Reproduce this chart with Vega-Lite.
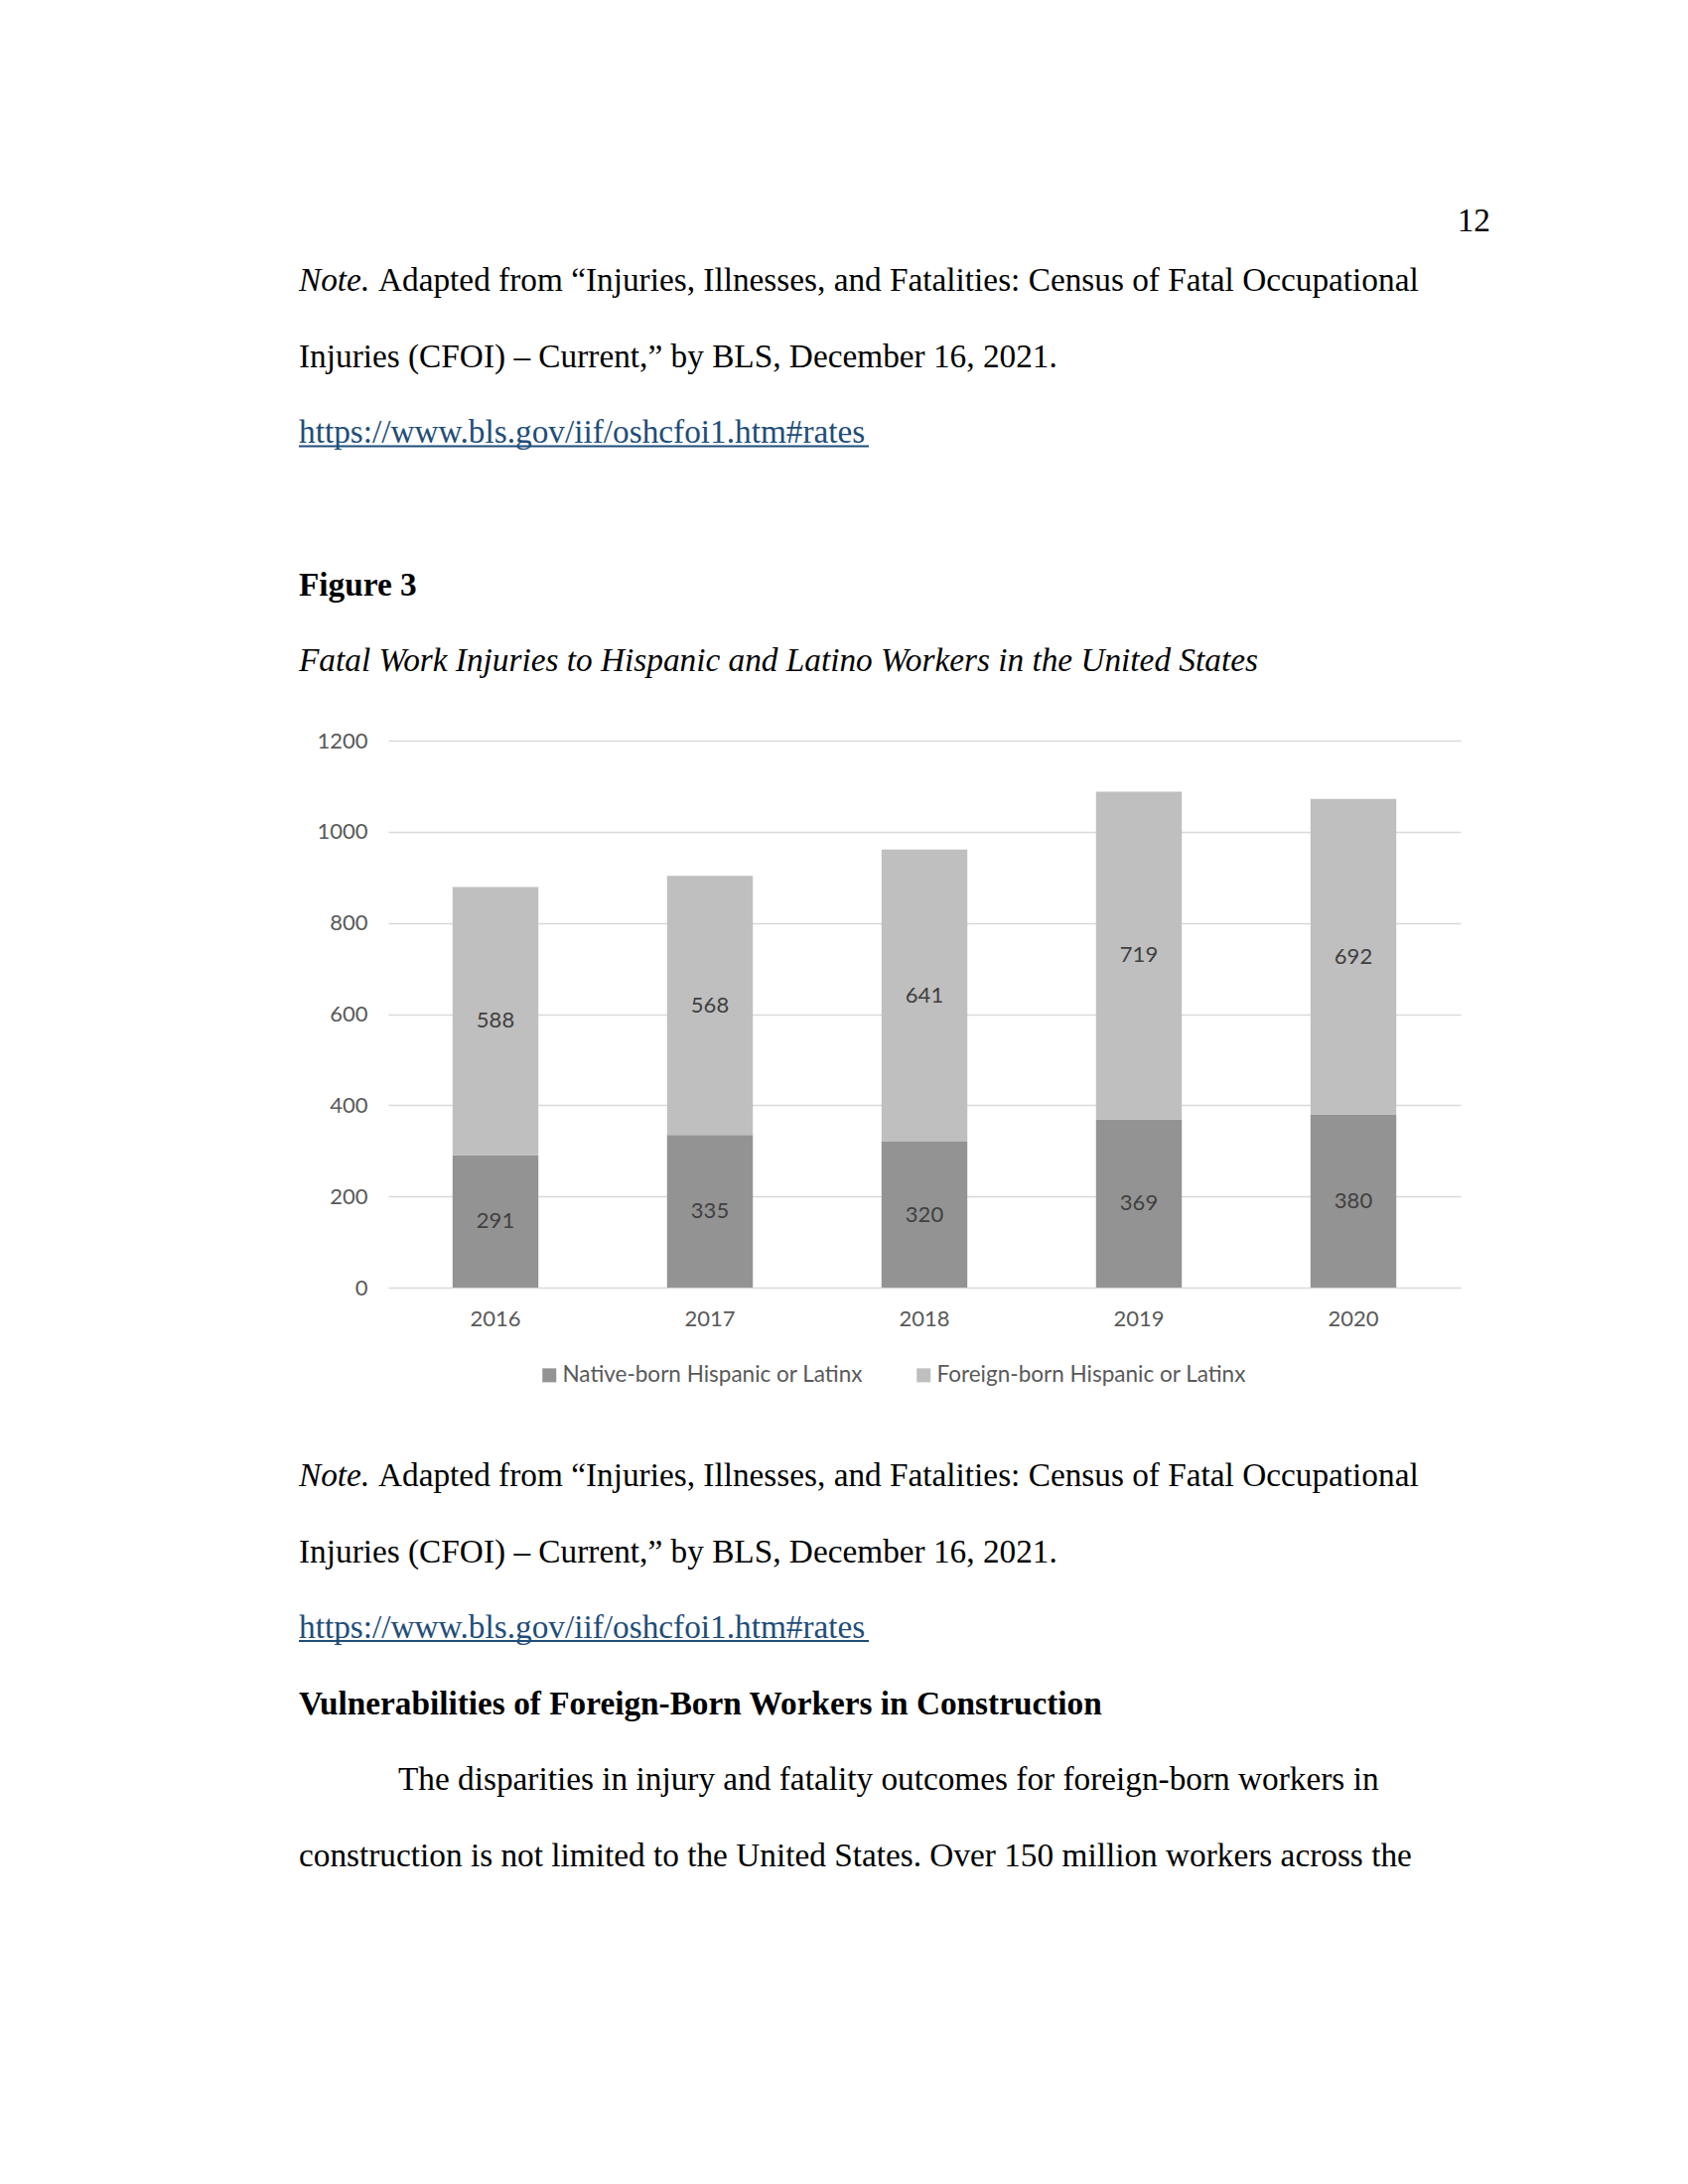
{
  "$schema": "https://vega.github.io/schema/vega-lite/v6.json",
  "background": "white",
  "padding": {"left": 300, "top": 205, "right": 0, "bottom": 0},
  "title": {"text": "12", "anchor": "end", "font": "Liberation Serif", "fontSize": 33.3, "fontWeight": "normal", "color": "black", "offset": 5},
  "spacing": 0,
  "resolve": {"legend": {"color": "independent"}},
  "config": {"view": {"stroke": null}, "font": "Liberation Serif"},
  "vconcat": [
    {
      "width": 1110,
      "height": 490,
      "layer": [
        {
          "data": {"values": [{"line": 1, "text": "Note."}, {"line": 6, "text": "Fatal Work Injuries to Hispanic and Latino Workers in the United States"}]},
          "mark": {"type": "text", "align": "left", "baseline": "middle", "font": "Liberation Serif", "fontSize": 33.3, "fontStyle": "italic", "color": "black"},
          "encoding": {"x": {"value": -90}, "y": {"field": "line", "type": "quantitative", "scale": {"domain": [0.5, 6.897], "reverse": true, "nice": false, "zero": false}, "axis": null}, "text": {"field": "text"}}
        },
        {
          "data": {"values": [{"line": 1, "text": "Adapted from “Injuries, Illnesses, and Fatalities: Census of Fatal Occupational"}]},
          "mark": {"type": "text", "align": "left", "baseline": "middle", "font": "Liberation Serif", "fontSize": 33.3, "color": "black", "dx": 80},
          "encoding": {"x": {"value": -90}, "y": {"field": "line", "type": "quantitative", "axis": null}, "text": {"field": "text"}}
        },
        {
          "data": {"values": [{"line": 2, "text": "Injuries (CFOI) – Current,” by BLS, December 16, 2021."}]},
          "mark": {"type": "text", "align": "left", "baseline": "middle", "font": "Liberation Serif", "fontSize": 33.3, "color": "black"},
          "encoding": {"x": {"value": -90}, "y": {"field": "line", "type": "quantitative", "axis": null}, "text": {"field": "text"}}
        },
        {
          "data": {"values": [{"line": 3, "text": "https://www.bls.gov/iif/oshcfoi1.htm#rates"}]},
          "mark": {"type": "text", "align": "left", "baseline": "middle", "font": "Liberation Serif", "fontSize": 33.3, "color": "#1F4E79"},
          "encoding": {"x": {"value": -90}, "y": {"field": "line", "type": "quantitative", "axis": null}, "text": {"field": "text"}}
        },
        {
          "data": {"values": [{"line": 3}]},
          "mark": {"type": "rule", "color": "#1F4E79", "strokeWidth": 2, "yOffset": 13},
          "encoding": {"x": {"value": -90}, "x2": {"value": 484}, "y": {"field": "line", "type": "quantitative", "axis": null}}
        },
        {
          "data": {"values": [{"line": 5, "text": "Figure 3"}]},
          "mark": {"type": "text", "align": "left", "baseline": "middle", "font": "Liberation Serif", "fontSize": 33.3, "fontWeight": "bold", "color": "black"},
          "encoding": {"x": {"value": -90}, "y": {"field": "line", "type": "quantitative", "axis": null}, "text": {"field": "text"}}
        }
      ]
    },
    {
      "width": 1080,
      "height": 551,
      "data": {"values": [
        {"year": "2016", "group": "Native-born Hispanic or Latinx", "value": 291},
        {"year": "2016", "group": "Foreign-born Hispanic or Latinx", "value": 588},
        {"year": "2017", "group": "Native-born Hispanic or Latinx", "value": 335},
        {"year": "2017", "group": "Foreign-born Hispanic or Latinx", "value": 568},
        {"year": "2018", "group": "Native-born Hispanic or Latinx", "value": 320},
        {"year": "2018", "group": "Foreign-born Hispanic or Latinx", "value": 641},
        {"year": "2019", "group": "Native-born Hispanic or Latinx", "value": 369},
        {"year": "2019", "group": "Foreign-born Hispanic or Latinx", "value": 719},
        {"year": "2020", "group": "Native-born Hispanic or Latinx", "value": 380},
        {"year": "2020", "group": "Foreign-born Hispanic or Latinx", "value": 692}
      ]},
      "encoding": {
        "x": {"field": "year", "type": "nominal", "scale": {"paddingInner": 0.6, "paddingOuter": 0.3},
              "axis": {"title": null, "labelAngle": 0, "domain": false, "ticks": false, "grid": false, "labelPadding": 21, "labelFont": "Lato", "labelFontSize": 22, "labelColor": "#595959"}},
        "y": {"field": "value", "type": "quantitative", "stack": "zero", "scale": {"domain": [0, 1200], "nice": false},
              "axis": {"title": null, "values": [0, 200, 400, 600, 800, 1000, 1200], "format": "d", "domain": false, "ticks": false, "gridColor": "#d9d9d9", "gridWidth": 1.6, "labelPadding": 21, "minExtent": 90, "labelFont": "Lato", "labelFontSize": 22, "labelColor": "#595959"}},
        "order": {"field": "group", "sort": "descending"}
      },
      "layer": [
        {
          "mark": {"type": "bar"},
          "encoding": {
            "color": {"field": "group", "type": "nominal",
                      "scale": {"domain": ["Native-born Hispanic or Latinx", "Foreign-born Hispanic or Latinx"], "range": ["#939393", "#bfbfbf"]},
                      "legend": {"orient": "none", "legendX": 151, "legendY": 628, "direction": "horizontal", "title": null, "symbolType": "square", "symbolSize": 196, "symbolStrokeWidth": 0, "labelFont": "Lato", "labelFontSize": 22.5, "labelColor": "#595959", "columnPadding": 50, "labelOffset": 2, "labelLimit": 0}}
          }
        },
        {
          "mark": {"type": "text", "font": "Lato", "fontSize": 22, "color": "#404040", "baseline": "middle"},
          "encoding": {
            "y": {"field": "value", "type": "quantitative", "stack": "zero", "bandPosition": 0.5},
            "detail": {"field": "group"},
            "text": {"field": "value", "type": "quantitative"}
          }
        }
      ]
    },
    {
      "width": 1110,
      "height": 511,
      "layer": [
        {
          "data": {"values": [{"line": 1, "text": "Note."}]},
          "mark": {"type": "text", "align": "left", "baseline": "middle", "font": "Liberation Serif", "fontSize": 33.3, "fontStyle": "italic", "color": "black"},
          "encoding": {"x": {"value": -90}, "y": {"field": "line", "type": "quantitative", "scale": {"domain": [-0.175, 6.5], "reverse": true, "nice": false, "zero": false}, "axis": null}, "text": {"field": "text"}}
        },
        {
          "data": {"values": [{"line": 1, "text": "Adapted from “Injuries, Illnesses, and Fatalities: Census of Fatal Occupational"}]},
          "mark": {"type": "text", "align": "left", "baseline": "middle", "font": "Liberation Serif", "fontSize": 33.3, "color": "black", "dx": 80},
          "encoding": {"x": {"value": -90}, "y": {"field": "line", "type": "quantitative", "axis": null}, "text": {"field": "text"}}
        },
        {
          "data": {"values": [
            {"line": 2, "text": "Injuries (CFOI) – Current,” by BLS, December 16, 2021."},
            {"line": 6, "text": "construction is not limited to the United States. Over 150 million workers across the"}
          ]},
          "mark": {"type": "text", "align": "left", "baseline": "middle", "font": "Liberation Serif", "fontSize": 33.3, "color": "black"},
          "encoding": {"x": {"value": -90}, "y": {"field": "line", "type": "quantitative", "axis": null}, "text": {"field": "text"}}
        },
        {
          "data": {"values": [{"line": 5, "text": "The disparities in injury and fatality outcomes for foreign-born workers in"}]},
          "mark": {"type": "text", "align": "left", "baseline": "middle", "font": "Liberation Serif", "fontSize": 33.3, "color": "black", "dx": 100},
          "encoding": {"x": {"value": -90}, "y": {"field": "line", "type": "quantitative", "axis": null}, "text": {"field": "text"}}
        },
        {
          "data": {"values": [{"line": 3, "text": "https://www.bls.gov/iif/oshcfoi1.htm#rates"}]},
          "mark": {"type": "text", "align": "left", "baseline": "middle", "font": "Liberation Serif", "fontSize": 33.3, "color": "#1F4E79"},
          "encoding": {"x": {"value": -90}, "y": {"field": "line", "type": "quantitative", "axis": null}, "text": {"field": "text"}}
        },
        {
          "data": {"values": [{"line": 3}]},
          "mark": {"type": "rule", "color": "#1F4E79", "strokeWidth": 2, "yOffset": 13},
          "encoding": {"x": {"value": -90}, "x2": {"value": 484}, "y": {"field": "line", "type": "quantitative", "axis": null}}
        },
        {
          "data": {"values": [{"line": 4, "text": "Vulnerabilities of Foreign-Born Workers in Construction"}]},
          "mark": {"type": "text", "align": "left", "baseline": "middle", "font": "Liberation Serif", "fontSize": 33.3, "fontWeight": "bold", "color": "black"},
          "encoding": {"x": {"value": -90}, "y": {"field": "line", "type": "quantitative", "axis": null}, "text": {"field": "text"}}
        }
      ]
    }
  ]
}
